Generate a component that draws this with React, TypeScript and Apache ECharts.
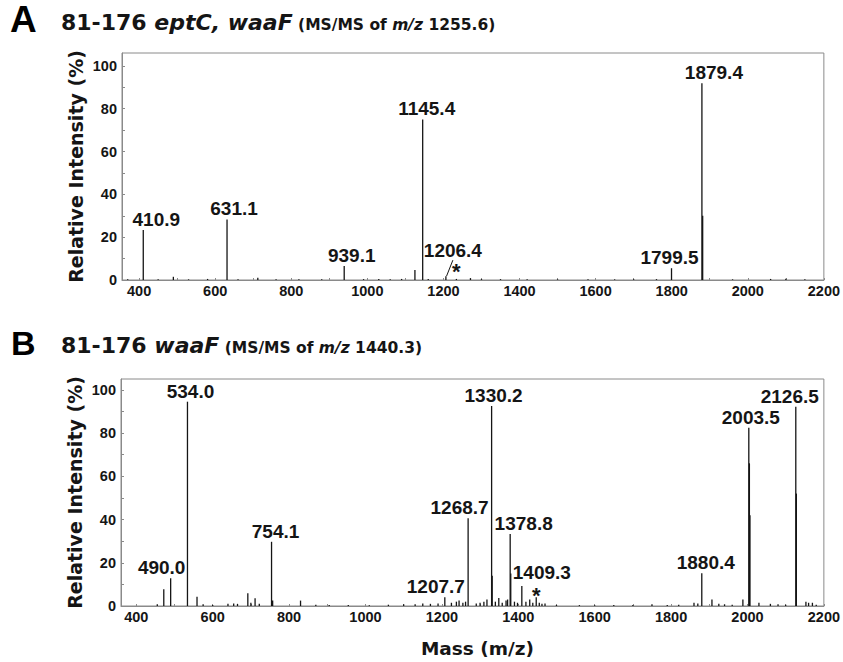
import React, { useEffect, useRef } from "react";
import * as echarts from "echarts";

// ---- shared axis ticks ----
const xTickValues = [400, 600, 800, 1000, 1200, 1400, 1600, 1800, 2000, 2200];
const xMinorTickValues = [400, 500, 600, 700, 800, 900, 1000, 1100, 1200, 1300, 1400, 1500, 1600, 1700, 1800, 1900, 2000, 2100, 2200];
const yTickValues = [0, 20, 40, 60, 80, 100];
const yMinorTickValues = [0, 10, 20, 30, 40, 50, 60, 70, 80, 90, 100];

// ---- Panel A: 81-176 eptC, waaF (MS/MS of m/z 1255.6) ----
const peakMzA = [410.9, 631.1, 939.1, 1145.4, 1799.5, 1879.4];
const peakIntA = [23.3, 28.3, 6.5, 75.0, 5.5, 91.9];
const calloutMzA = [1206.4];
const calloutIntA = [1.8];
const starMzA = [1234];
const starIntA = [0.5];
const minorMzA = [370, 450, 490, 530, 580, 660, 712, 760, 820, 880, 990, 1030, 1060, 1090, 1125, 1160, 1271, 1300, 1350, 1420, 1500, 1580, 1650, 1700, 1760, 1881.4, 1960, 2060, 2100, 2150];
const minorIntA = [0.4, 0.4, 1.5, 0.3, 0.5, 0.4, 1.1, 0.4, 0.3, 0.3, 0.4, 0.5, 0.4, 0.5, 4.7, 0.5, 0.9, 0.4, 0.4, 0.3, 0.3, 0.4, 0.3, 0.3, 0.4, 30, 0.3, 0.5, 0.6, 0.3];

// ---- Panel B: 81-176 waaF (MS/MS of m/z 1440.3) ----
const peakMzB = [490.0, 534.0, 754.1, 1207.7, 1268.7, 1330.2, 1378.8, 1409.3, 1880.4, 2003.5, 2126.5];
const peakIntB = [12.8, 94.5, 29.7, 4.0, 40.6, 92.5, 33.3, 9.3, 15.1, 82.5, 92.2];
const starMzB = [1447];
const starIntB = [4.0];
const minorMzB = [455, 472, 559, 575, 600, 640, 655, 665, 692, 700, 711, 722, 757, 830, 870, 905, 955, 1010, 1060, 1100, 1130, 1150, 1170, 1190, 1225, 1238, 1245, 1255, 1262, 1290, 1300, 1310, 1318, 1331.7, 1340, 1349, 1358, 1368, 1372, 1380.3, 1390, 1398, 1420, 1430, 1438, 1455, 1462, 1470, 1500, 1560, 1600, 1650, 1700, 1750, 1790, 1820, 1860, 1870, 1907, 1925, 1940, 1960, 1988, 2005, 2006.5, 2030, 2060, 2080, 2100, 2128, 2153, 2160, 2170, 2180];
const minorIntB = [0.8, 7.7, 4.3, 0.8, 0.5, 1, 1.2, 1, 5.9, 1.5, 3.6, 1, 2.5, 2.5, 0.6, 0.5, 0.5, 0.4, 0.6, 0.8, 0.8, 1.2, 1, 1.2, 1.5, 2, 2.5, 1.5, 2, 1.2, 1.5, 2, 3, 14, 2, 3.7, 1.5, 2.5, 3, 15, 2, 1.5, 2, 3, 1.5, 1.5, 1, 1.2, 0.5, 0.4, 0.4, 0.5, 0.5, 0.8, 0.5, 0.6, 1.5, 1.2, 3, 1, 0.8, 0.6, 3, 66, 42, 1.5, 1, 0.8, 0.6, 52, 2, 1.5, 1.5, 0.6];

// label shifts (pixels) kept apart from the data
const labelShiftA = [[13, 0], [7, 0], [7.5, 0], [4, 0], [-2, 0], [12, 0]];
const calloutShiftA = [7, -15];
const starShiftA = [0, -1];
const labelShiftB = [[-9, 0], [3, 0], [4, 0], [-9, 0], [-8.5, 0], [2, 0], [13.5, 0], [20, -3], [4, 0], [2, 0], [-6, 0]];
const starShiftB = [0, 4];

const FONT = "'Liberation Sans', Arial, Helvetica, sans-serif";
const WIDE = "'DejaVu Sans', Verdana, sans-serif";
const INK = "#151515";
const FRAME = "#8a8a8a";

function pairs(xs: number[], ys: number[]) {
  return xs.map((x, i) => [x, ys[i]]);
}

const peakLabel = {
  show: true,
  position: "top",
  distance: 1,
  fontFamily: FONT,
  fontWeight: "bold",
  fontSize: 19,
  color: INK,
};

function buildSeries(
  idx: number,
  mz: number[],
  inten: number[],
  shifts: number[][],
  minorMz: number[],
  minorInt: number[],
  starMz: number[],
  starInt: number[],
  starShift: number[]
) {
  const base = {
    type: "bar",
    xAxisIndex: idx,
    yAxisIndex: idx,
    barWidth: 1.3,
    barGap: "-100%",
    itemStyle: { color: INK },
    silent: true,
  };
  const list: any[] = [
    { ...base, name: "minor" + idx, data: pairs(minorMz, minorInt), z: 2 },
    {
      ...base,
      name: "star" + idx,
      z: 3,
      data: pairs(starMz, starInt),
      label: { ...peakLabel, fontSize: 22, lineHeight: 10, formatter: "*", offset: starShift },
    },
    {
      ...base,
      name: "peaks" + idx,
      z: 4,
      data: mz.map((m, i) => ({
        value: [m, inten[i]],
        label: { offset: shifts[i] },
      })),
      label: { ...peakLabel, formatter: (p: any) => p.value[0].toFixed(1) },
    },
  ];
  return list;
}

function makeGrid(left: number, top: number, right: number, height: number) {
  return { left, top, right, height, show: true, borderColor: FRAME, borderWidth: 1, containLabel: false };
}

function makeX(idx: number, min: number, withName: boolean) {
  return {
    type: "value",
    gridIndex: idx,
    min,
    max: 2200,
    axisLine: { show: true, lineStyle: { color: FRAME, width: 1 } },
    axisTick: { show: true, inside: true, length: 2, customValues: xMinorTickValues, lineStyle: { color: FRAME } },
    axisLabel: {
      customValues: xTickValues,
      formatter: (v: number) => String(v),
      fontFamily: FONT,
      fontWeight: "bold",
      fontSize: 14.5,
      color: INK,
      margin: 3,
    },
    splitLine: { show: false },
    name: withName ? "Mass (m/z)" : "",
    nameLocation: "middle",
    nameGap: 33,
    nameMoveOverlap: false,
    nameTextStyle: { fontFamily: WIDE, fontWeight: "bold", fontSize: 18.5, color: INK, padding: [0, 0, 0, 10] },
  };
}

function makeY(idx: number, max: number) {
  return {
    type: "value",
    gridIndex: idx,
    min: 0,
    max,
    axisLine: { show: true, lineStyle: { color: FRAME, width: 1 } },
    axisTick: { show: true, inside: true, length: 3, customValues: yMinorTickValues, lineStyle: { color: FRAME } },
    axisLabel: {
      customValues: yTickValues,
      formatter: (v: number) => String(v),
      fontFamily: FONT,
      fontWeight: "bold",
      fontSize: 14.5,
      color: INK,
      margin: 5,
    },
    splitLine: { show: false },
    name: "Relative Intensity (%)",
    nameLocation: "middle",
    nameRotate: 90,
    nameGap: 37,
    nameMoveOverlap: false,
    nameTextStyle: { fontFamily: WIDE, fontWeight: "bold", fontSize: 19, color: INK },
  };
}

function richTitle(big: string, bigItalic: string, precursor: string) {
  const common = { fontFamily: WIDE, fontWeight: "bold", color: INK, verticalAlign: "bottom", lineHeight: 24 };
  return {
    text: `{b|${big}}{bi|${bigItalic}}{s| (MS/MS of }{si|m/z}{s| ${precursor})}`,
    padding: 0,
    textStyle: {
      rich: {
        b: { ...common, fontSize: 22 },
        bi: { ...common, fontSize: 22, fontStyle: "italic" },
        s: { ...common, fontSize: 15.5 },
        si: { ...common, fontSize: 15.5, fontStyle: "italic" },
      },
    },
  };
}

export default function App() {
  const ref = useRef<HTMLDivElement>(null);
  useEffect(() => {
    document.body.style.margin = "0";
    if (!ref.current) return;
    const chart = echarts.init(ref.current, undefined, { renderer: "svg" });

    const seriesA = buildSeries(0, peakMzA, peakIntA, labelShiftA, minorMzA, minorIntA, starMzA, starIntA, starShiftA);
    seriesA.push({
      type: "bar",
      name: "callout0",
      xAxisIndex: 0,
      yAxisIndex: 0,
      barWidth: 1.3,
      barGap: "-100%",
      itemStyle: { color: INK },
      silent: true,
      z: 5,
      data: pairs(calloutMzA, calloutIntA),
      label: { ...peakLabel, formatter: (p: any) => p.value[0].toFixed(1) },
      labelLayout: { dx: calloutShiftA[0], dy: calloutShiftA[1] },
      labelLine: { show: true, lineStyle: { color: INK, width: 1 } },
    });
    const seriesB = buildSeries(1, peakMzB, peakIntB, labelShiftB, minorMzB, minorIntB, starMzB, starIntB, starShiftB);

    chart.setOption({
      animation: false,
      backgroundColor: "#ffffff",
      title: [
        { text: "A", left: 10, top: 1, padding: 0, textStyle: { fontFamily: FONT, fontWeight: "bold", fontSize: 37, color: "#000" } },
        { left: 61, top: 9, ...richTitle("81-176 ", "eptC, waaF", "1255.6") },
        { text: "B", left: 11, top: 326, padding: 0, textStyle: { fontFamily: FONT, fontWeight: "bold", fontSize: 34, color: "#000" } },
        { left: 61, top: 332, ...richTitle("81-176 ", "waaF", "1440.3") },
      ],
      grid: [makeGrid(122, 53, 14, 227), makeGrid(121, 379, 15, 227)],
      xAxis: [makeX(0, 355, false), makeX(1, 360, true)],
      yAxis: [makeY(0, 106), makeY(1, 105)],
      series: [...seriesA, ...seriesB],
    });
    return () => chart.dispose();
  }, []);
  return <div ref={ref} style={{ width: 843, height: 662 }} />;
}
